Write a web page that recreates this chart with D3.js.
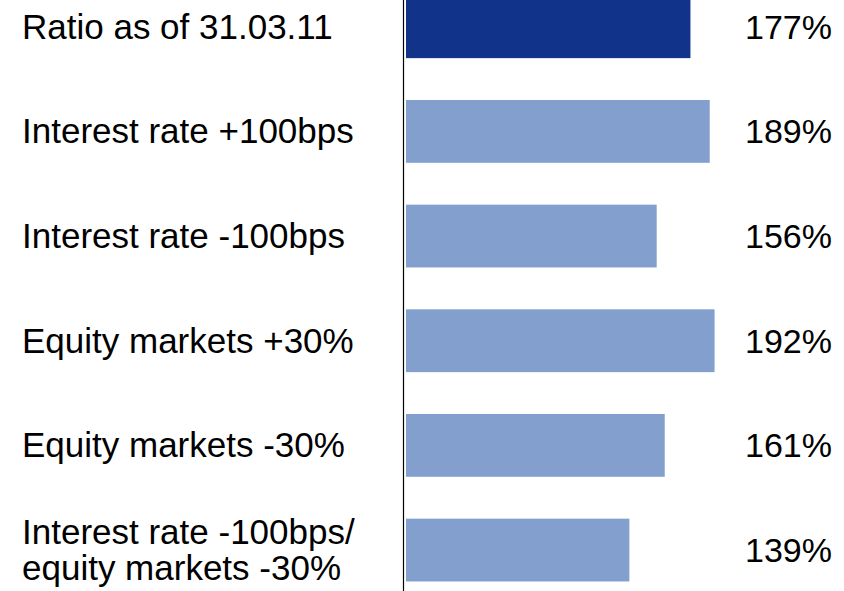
<!DOCTYPE html>
<html>
<head>
<meta charset="utf-8">
<script src="https://cdn.jsdelivr.net/npm/d3@7"></script>
<style>
  html, body { margin: 0; padding: 0; background: #fff; }
  svg { display: block; font-family: Arial, "Liberation Sans", sans-serif; }
  .cat-label { font-size: 35px; fill: #000; }
  .val-label { font-size: 34px; fill: #000; }
</style>
</head>
<body>
<div id="chart"></div>
<script>
const scenarios = [
  ["Ratio as of 31.03.11"],
  ["Interest rate +100bps"],
  ["Interest rate -100bps"],
  ["Equity markets +30%"],
  ["Equity markets -30%"],
  ["Interest rate -100bps/", "equity markets -30%"]
];
const ratios = [177, 189, 156, 192, 161, 139];
const highlight = [true, false, false, false, false, false];

const width = 844;
const height = 591;

const svg = d3.select("#chart").append("svg")
  .attr("width", width)
  .attr("height", height);

const rows = scenarios.map((lines, i) => ({ key: i, lines, value: ratios[i], current: highlight[i] }));

const y = d3.scaleBand()
  .domain(rows.map(d => d.key))
  .range([-25.6, 602.4])
  .paddingInner(0.4)
  .paddingOuter(0.2);

const x = d3.scaleLinear()
  .domain([0, 200])
  .range([406, 727.4]);

svg.append("g")
  .selectAll("rect")
  .data(rows)
  .join("rect")
  .attr("x", x(0))
  .attr("y", d => y(d.key))
  .attr("width", d => x(d.value) - x(0))
  .attr("height", y.bandwidth())
  .attr("fill", d => d.current ? "#11338a" : "#839fcd");

// axis line
svg.append("line")
  .attr("x1", 403.5).attr("x2", 403.5)
  .attr("y1", 0).attr("y2", height)
  .attr("stroke", "#000")
  .attr("stroke-width", 1.2);

// category labels
const fontSize = 34;
const lineGap = 36;
const mid = d => y(d.key) + y.bandwidth() / 2;

svg.append("g")
  .selectAll("text")
  .data(rows)
  .join("text")
  .attr("class", "cat-label")
  .each(function (d) {
    const first = mid(d) + 0.35 * fontSize - (d.lines.length - 1) * lineGap / 2;
    d3.select(this).selectAll("tspan")
      .data(d.lines)
      .join("tspan")
      .attr("x", 22)
      .attr("y", (_, i) => first + i * lineGap)
      .text(t => t);
  });

// value labels
svg.append("g")
  .selectAll("text")
  .data(rows)
  .join("text")
  .attr("class", "val-label")
  .attr("x", 832)
  .attr("y", d => mid(d) + 0.35 * fontSize)
  .attr("text-anchor", "end")
  .text(d => d.value + "%");
</script>
</body>
</html>
